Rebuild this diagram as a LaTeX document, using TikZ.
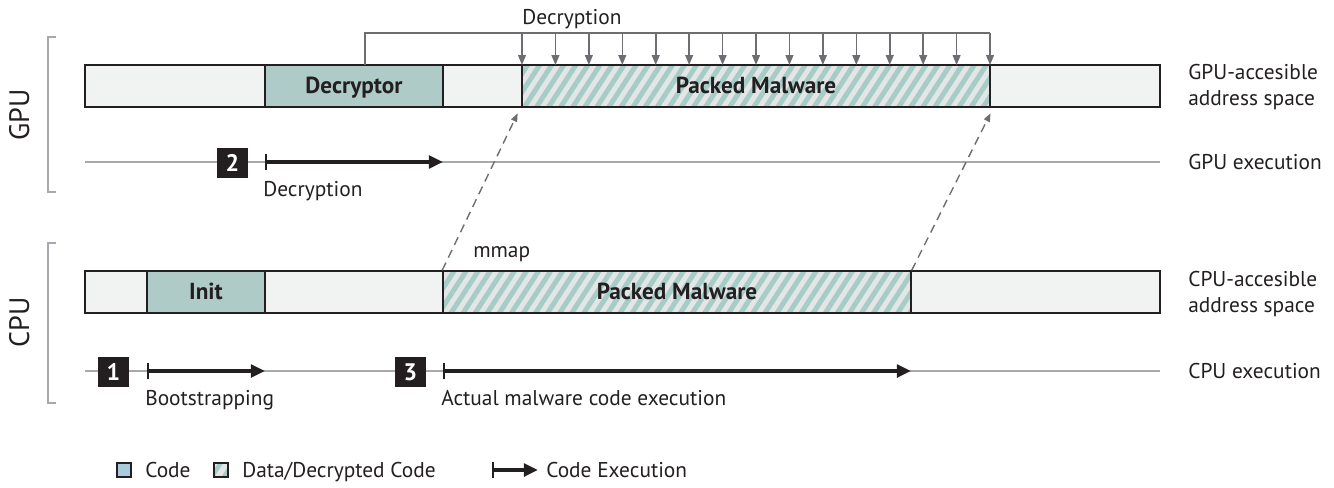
\documentclass[tikz,border=0pt]{standalone}
\usepackage{fontspec}
\setmainfont{PT Sans}
\usetikzlibrary{arrows.meta,positioning,fit,patterns.meta}

\definecolor{barline}{HTML}{231F20}
\definecolor{emptyfill}{HTML}{F1F2F2}
\definecolor{codefill}{HTML}{AECBC8}
\definecolor{hatchfg}{HTML}{A5CCC6}
\definecolor{hatchbg}{HTML}{E3E6E5}
\definecolor{lightline}{HTML}{A7A9AC}
\definecolor{arrowgray}{HTML}{6D6E71}
\definecolor{legendblue}{HTML}{A8CCDD}

\tikzset{
  seg/.style={draw=barline, line width=1.1pt, inner sep=0pt, fill=emptyfill},
  boldlbl/.style={font=\fontsize{16.5}{18}\selectfont\bfseries, text=barline, text height=14pt, text depth=2.7pt},
  codeseg/.style={draw=barline, line width=1.1pt, inner sep=0pt, fill=codefill},
  dataseg/.style={draw=barline, line width=1.1pt, inner sep=0pt, preaction={fill=hatchbg},
    pattern={Lines[angle=57,distance=7.2pt,line width=3.5pt]}, pattern color=hatchfg},
  numbox/.style={fill=barline, text=white, minimum size=22pt, inner sep=0pt, font=\fontsize{17}{19}\selectfont\bfseries},
  execline/.style={lightline, line width=1.1pt},
  exec/.style={draw=barline, line width=2.6pt, {Bar[width=12pt,line width=1.4pt]}-{Triangle[length=10pt,width=9pt]}},
  decarrow/.style={arrowgray, line width=1.1pt, -{Triangle[length=7pt,width=5.5pt]}},
  mmaparrow/.style={arrowgray, line width=1pt, dash pattern=on 6pt off 4pt, -{Triangle[length=6pt,width=4.5pt]}, shorten >=3pt},
  bracket/.style={lightline, line width=1.1pt},
  txt/.style={font=\fontsize{15.2}{18}\selectfont, inner sep=0pt, text=barline, text height=13.3pt, text depth=3pt},
  twoline/.style={text height={}, text depth={}, align=left},
}

\begin{document}
\begin{tikzpicture}[x=0.025cm, y=-0.025cm]
\useasboundingbox (0,0) rectangle (1334,487);

% GPU address space
\node[seg, fit={(85,65) (265,107)}] (g1) {};
\node[codeseg, fit={(265,65) (443,107)}, label={[boldlbl]center:Decryptor}] (dec) {};
\node[seg, fit={(443,65) (522,107)}] (g2) {};
\node[dataseg, fit={(522,65) (990,107)}, label={[boldlbl]center:Packed Malware}] (gpk) {};
\node[seg, fit={(990,65) (1160,107)}] (g3) {};

% decryption bracket
\draw[arrowgray, line width=1.1pt] (365,65) |- (990,33);
\foreach \i in {0,...,14}
  \draw[decarrow] ({522+\i*33.43},33) -- ({522+\i*33.43},65);
\node[txt] (dectop) at (572,17) {Decryption};

% GPU execution
\draw[execline] (85,162) -- (1160,162);
\node[numbox] (n2) at (232.5,163) {2};
\coordinate (s2) at (265,162);
\coordinate (e2) at (443,162);
\draw[exec] (s2) -- (e2);
\node[txt, anchor=west] (declbl) at (263,189) {Decryption};

% CPU address space
\node[seg, fit={(85,271) (147,313)}] (c1) {};
\node[codeseg, fit={(147,271) (265,313)}, label={[boldlbl]center:Init}] (init) {};
\node[seg, fit={(265,271) (443,313)}] (c2) {};
\node[dataseg, fit={(443,271) (911,313)}, label={[boldlbl]center:Packed Malware}] (cpk) {};
\node[seg, fit={(911,271) (1160,313)}] (c3) {};

% CPU execution
\draw[execline] (85,371) -- (1160,371);
\node[numbox] (n1) at (113.5,372) {1};
\coordinate (s1) at (147,371);
\coordinate (e1) at (265,371);
\draw[exec] (s1) -- (e1);
\node[txt, anchor=west] (bootlbl) at (145,398) {Bootstrapping};
\node[numbox] (n3) at (410.5,372) {3};
\coordinate (s3) at (443,371);
\coordinate (e3) at (911,371);
\draw[exec] (s3) -- (e3);
\node[txt, anchor=west] (actlbl) at (441,398) {Actual malware code execution};

% mmap
\draw[mmaparrow] (cpk.north west) -- (gpk.south west);
\draw[mmaparrow] (cpk.north east) -- (gpk.south east);
\node[txt, anchor=west] (mmap) at (473,250) {mmap};

% brackets and side labels
\draw[bracket] (56,37) -| (48,192) -- (56,192);
\draw[bracket] (56,243) -| (48,403) -- (56,403);
\node[txt, rotate=90, font=\fontsize{20}{22}\selectfont] (gpu) at (22,115) {GPU};
\node[txt, rotate=90, font=\fontsize{20}{22}\selectfont] (cpu) at (22,322) {CPU};

\node[txt, twoline, anchor=west] (gaddr) at (1188,87) {GPU-accesible\\address space};
\node[txt, anchor=west] (gexec) at (1188,162) {GPU execution};
\node[txt, twoline, anchor=west] (caddr) at (1188,294) {CPU-accesible\\address space};
\node[txt, anchor=west] (cexec) at (1188,371) {CPU execution};

% legend
\node[draw=barline, line width=1.1pt, fill=legendblue, minimum size=10pt, inner sep=0pt] (lcode) at (124,470) {};
\node[txt, anchor=west] (lcodetxt) at (145,470) {Code};
\node[draw=barline, line width=1.1pt, preaction={fill=hatchbg}, pattern={Lines[angle=57,distance=7.2pt,line width=3pt]}, pattern color=hatchfg, minimum size=10pt, inner sep=0pt] (ldata) at (221,470) {};
\node[txt, anchor=west] (ldatatxt) at (242,470) {Data/Decrypted Code};
\coordinate (ls) at (492,470);
\coordinate (le) at (538,470);
\draw[exec] (ls) -- (le);
\node[txt, anchor=west] (lexectxt) at (546,470) {Code Execution};
\end{tikzpicture}
\end{document}
